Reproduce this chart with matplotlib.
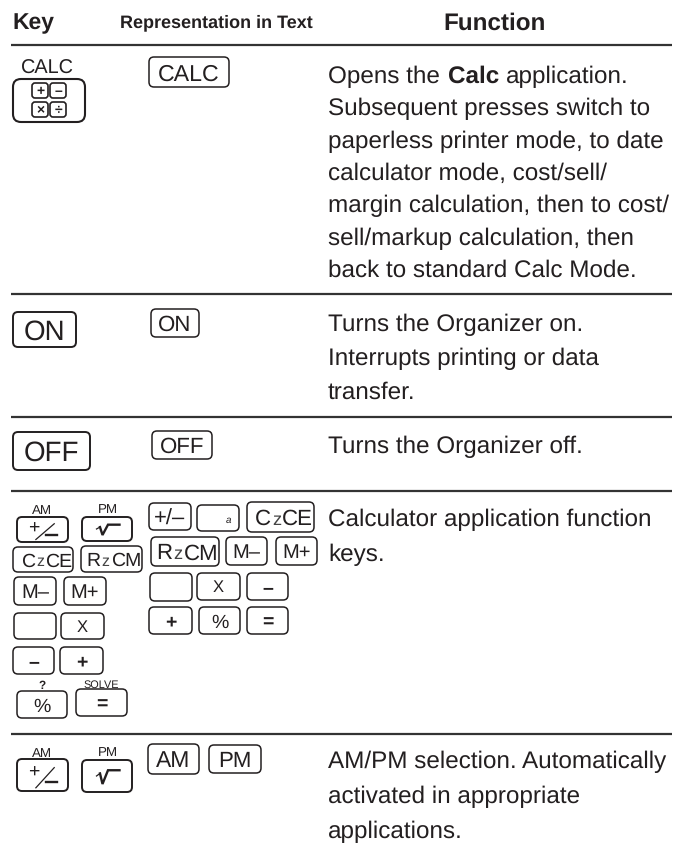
import matplotlib
matplotlib.use('Agg')
import matplotlib.pyplot as plt
from matplotlib.patches import FancyBboxPatch

plt.rcParams['font.family'] = ['Liberation Sans', 'DejaVu Sans']
plt.rcParams['text.hinting'] = 'none'

W, H = 674, 856
INK = '#231f20'
BODY = 17.5

headers = ['Key', 'Representation in Text', 'Function']
rule_rows = [45, 294, 417, 491, 734]

first_line = ['Opens the', 'Calc', 'application.']
function_lines = [
    ['', 'Subsequent presses switch to', 'paperless printer mode, to date',
     'calculator mode, cost/sell/', 'margin calculation, then to cost/',
     'sell/markup calculation, then', 'back to standard Calc Mode.'],
    ['Turns the Organizer on.', 'Interrupts printing or data', 'transfer.'],
    ['Turns the Organizer off.'],
    ['Calculator application function', 'keys.'],
    ['AM/PM selection. Automatically', 'activated in appropriate', 'applications.'],
]
function_tops = [74.5, 322.5, 444.5, 517.5, 759.5]
function_gaps = [32.3, 34, 34, 35, 35]

# label, left, top, right, bottom, font size
key_boxes = [
    ('CALC', 149, 57, 229, 87, 16.7),
    ('ON', 13, 312, 76, 347, 20),
    ('ON', 151, 309, 199, 337, 16),
    ('OFF', 13, 432, 90, 470, 20),
    ('OFF', 152, 431, 212, 459, 16),
    ('+/-', 149, 503, 191, 530, 15.8),
    ('', 197, 505, 239, 531, 10),
    ('CzCE', 247, 502, 314, 532, 16),
    ('RzCM', 151, 537, 219, 566, 16),
    ('M-', 226, 537, 267, 565, 14.5),
    ('M+', 276, 537, 317, 565, 14.5),
    ('', 150, 573, 192, 601, 10),
    ('X', 197, 573, 240, 600, 12),
    ('-', 247, 573, 288, 600, 14),
    ('+', 149, 607, 192, 634, 14),
    ('%', 199, 607, 240, 634, 14),
    ('=', 247, 607, 288, 634, 14),
    ('plusminus', 17, 517, 68, 542, 14),
    ('root', 82, 517, 132, 541, 14),
    ('CzCE', 13, 547, 73, 572, 14),
    ('RzCM', 81, 546, 142, 572, 14),
    ('M-', 14, 577, 56, 605, 14.5),
    ('M+', 64, 577, 106, 605, 14.5),
    ('', 14, 613, 56, 639, 10),
    ('X', 61, 613, 104, 639, 12),
    ('-', 13, 647, 54, 674, 14),
    ('+', 60, 647, 103, 674, 14),
    ('%', 17, 691, 67, 718, 14),
    ('=', 76, 689, 127, 716, 14),
    ('plusminus', 17, 759, 68, 791, 14),
    ('root', 82, 760, 132, 792, 14),
    ('AM', 148, 744, 199, 774, 16.5),
    ('PM', 209, 745, 261, 773, 16),
]

# text, x, y, size, weight
small_labels = [
    ('CALC', 47.5, 67, 14.3, 'normal'), ('AM', 41.5, 509, 9.6, 'normal'),
    ('PM', 108, 508, 9.6, 'normal'), ('?', 42, 685, 8.5, 'bold'),
    ('SOLVE', 101, 684, 7.8, 'normal'), ('AM', 41.5, 752, 9.6, 'normal'),
    ('PM', 108, 751, 9.6, 'normal'),
]
calc_glyphs = ['+', '–', '×', '÷']

fig = plt.figure(figsize=(W / 100, H / 100), dpi=100)
ax = fig.add_axes([0, 0, 1, 1])
ax.set_xlim(0, W)
ax.set_ylim(H, 0)
ax.axis('off')


def put(x, y, s, size, ha='left', weight='normal', color=INK, **kw):
    # y is the middle of the capitals, so sit the text on its baseline
    base = y + 0.358 * size * 100 / 72
    return ax.text(x, base, s, fontsize=size, ha=ha, va='baseline', color=color, fontweight=weight, **kw)


def width_of(t):
    fig.canvas.draw()
    return t.get_window_extent().width


def rounded(x0, y0, x1, y1, r=5, lw=1.1):
    ax.add_patch(FancyBboxPatch((x0 + r, y0 + r), x1 - x0 - 2 * r, y1 - y0 - 2 * r,
                                boxstyle='round,pad=%d,rounding_size=%d' % (r, r),
                                fc='white', ec=INK, lw=lw))


def draw_label(label, x0, y0, x1, y1, size):
    xm, ym = (x0 + x1) / 2, (y0 + y1) / 2
    w, h = x1 - x0, y1 - y0
    if label == 'plusminus':
        put(x0 + 0.33 * w, y0 + 0.38 * h, '+', size, ha='center')
        ax.plot([x0 + 0.37 * w, x0 + 0.73 * w], [y0 + 0.9 * h, y0 + 0.27 * h], color=INK, lw=0.9)
        ax.plot([x0 + 0.57 * w, x0 + 0.78 * w], [y0 + 0.71 * h, y0 + 0.71 * h], color=INK, lw=1.7)
    elif label == 'root':
        ax.plot([x0 + 0.29 * w, x0 + 0.36 * w], [y0 + 0.5 * h, y0 + 0.42 * h], color=INK, lw=0.9)
        ax.plot([x0 + 0.36 * w, x0 + 0.41 * w, x0 + 0.52 * w, x0 + 0.75 * w],
                [y0 + 0.42 * h, y0 + 0.75 * h, y0 + 0.32 * h, y0 + 0.32 * h],
                color=INK, lw=1.7, solid_joinstyle='miter')
    elif 'z' in label:
        # small z between the capitals, the run ends on the key edge
        a, b = label.split('z')
        ta = put(x0, ym, a, size)
        tz = ax.text(x0, ta.get_position()[1], 'z', fontsize=size * 0.82, ha='left', va='baseline', color='#444444')
        tb = put(x0, ym, b, size)
        wa, wz, wb = width_of(ta), width_of(tz), width_of(tb)
        start = x1 - (wa + wz + wb) - 3
        ta.set_x(start)
        tz.set_x(start + wa + 1)
        tb.set_x(start + wa + wz + 2)
    elif label:
        bold = label in ('+', '-', '=')
        put(xm, ym, label.replace('-', '–'), size, ha='center', weight='bold' if bold else 'normal')


put(12, 21, headers[0], 16.5, weight='bold')
put(120, 21, headers[1], 13, weight='bold')
put(495, 21, headers[2], 17.5, ha='center', weight='bold')

for y in rule_rows:
    ax.plot([11, 672], [y, y], color='#333333', lw=1.6, solid_capstyle='butt')

for lines, top, gap in zip(function_lines, function_tops, function_gaps):
    for i, line in enumerate(lines):
        put(328, top + i * gap, line, BODY)

put(328, function_tops[0], first_line[0], BODY)
put(448, function_tops[0], first_line[1], BODY, weight='bold')
put(506, function_tops[0], first_line[2], BODY)

for label, x0, y0, x1, y1, size in key_boxes:
    big = label in ('plusminus', 'root') or y1 - y0 > 33
    rounded(x0, y0, x1, y1, lw=1.4 if big else 1.1)
    draw_label(label, x0, y0, x1, y1, size)

put(228, 519, 'a', 7, ha='center', style='italic')

for text, x, y, size, weight in small_labels:
    put(x, y, text, size, ha='center', weight=weight)

# the CALC key with its four little keys
rounded(13, 79, 85, 122, r=8, lw=1.5)
for (gx, gy), glyph in zip([(32, 83), (50, 83), (32, 102), (50, 102)], calc_glyphs):
    rounded(gx, gy, gx + 16, gy + 15, r=3, lw=1.2)
    put(gx + 8, gy + 7.5, glyph, 10, ha='center', weight='bold')

fig.savefig('out.png', dpi=100)
